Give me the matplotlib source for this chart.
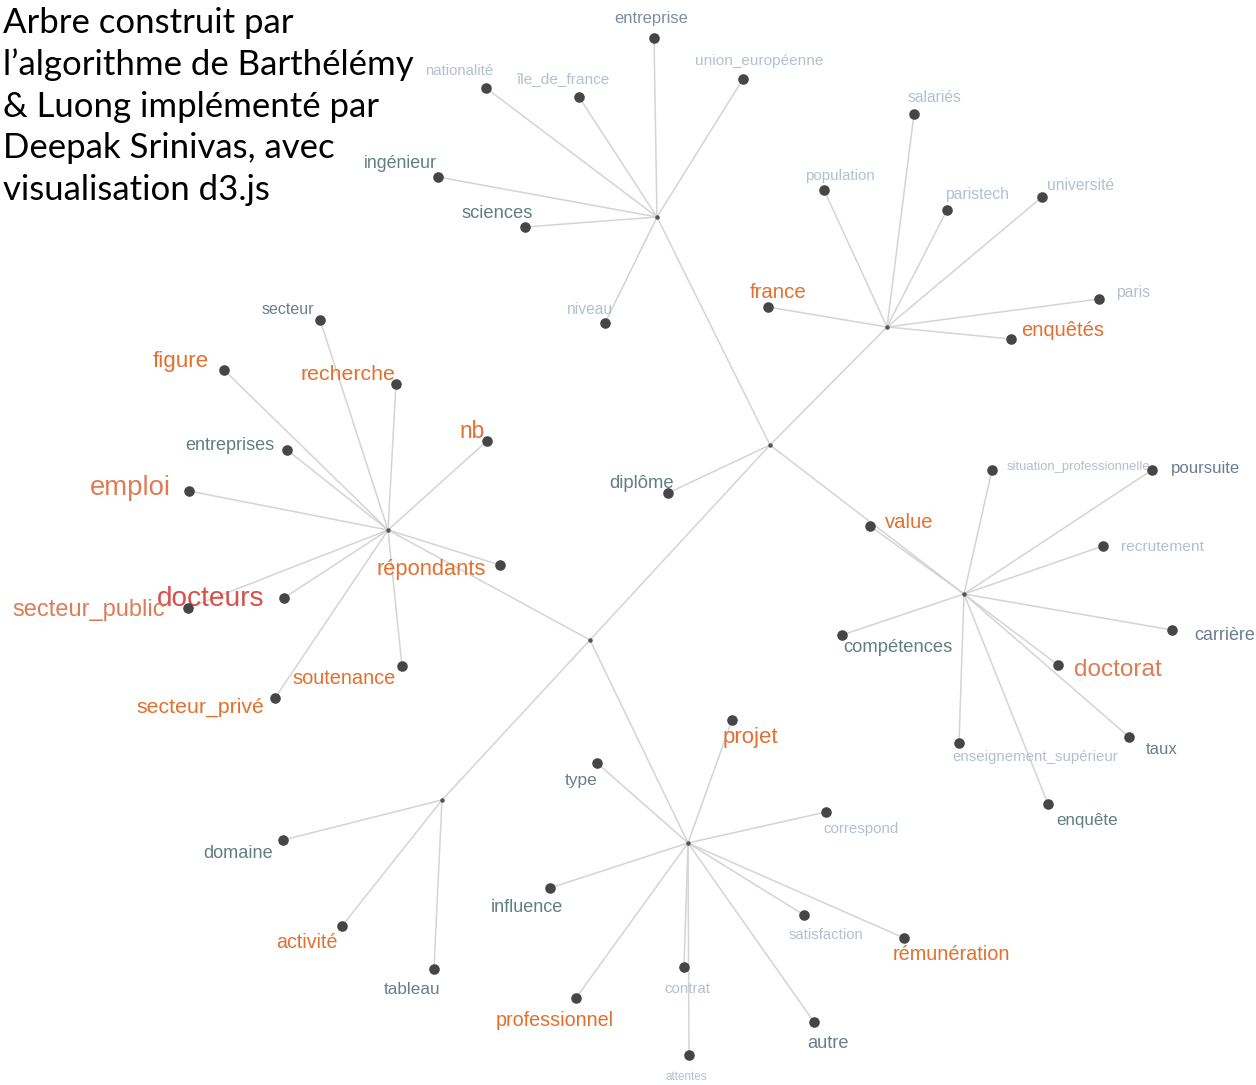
import matplotlib.pyplot as plt

# internal (unlabelled) nodes of the tree, pixel layout
hubs = ['A', 'B', 'C', 'D', 'E', 'F', 'G', 'H']
hub_x = [657, 887, 770, 388, 590, 964, 442, 688]
hub_y = [217, 327, 445, 530, 640, 594, 800, 843]
hub_links = [('A', 'C'), ('B', 'C'), ('C', 'E'), ('C', 'F'),
             ('E', 'D'), ('E', 'G'), ('E', 'H')]

# leaves: word, node position, parent hub, word weight, colour group
words = ['entreprise', 'union_européenne', 'île_de_france', 'nationalité', 'ingénieur',
         'sciences', 'niveau',
         'salariés', 'population', 'paristech', 'université', 'paris', 'enquêtés', 'france',
         'diplôme',
         'secteur', 'figure', 'recherche', 'nb', 'entreprises', 'emploi', 'répondants',
         'docteurs', 'secteur_public', 'soutenance', 'secteur_privé',
         'value', 'situation_professionnelle', 'poursuite', 'recrutement', 'carrière',
         'doctorat', 'taux', 'enquête', 'enseignement_supérieur', 'compétences',
         'domaine', 'activité', 'tableau',
         'type', 'projet', 'correspond', 'influence', 'satisfaction', 'rémunération',
         'contrat', 'professionnel', 'autre', 'attentes']
word_x = [654, 743, 579, 486, 438, 525, 605,
          914, 824, 947, 1042, 1099, 1011, 768,
          668,
          320, 224, 396, 487, 287, 189, 500, 284, 188, 402, 275,
          870, 992, 1152, 1103, 1172, 1058, 1129, 1048, 959, 842,
          283, 342, 434,
          597, 732, 826, 550, 804, 904, 684, 576, 814, 689]
word_y = [38, 79, 97, 88, 177, 227, 323,
          114, 190, 210, 197, 299, 339, 307,
          493,
          320, 370, 384, 441, 450, 491, 565, 598, 608, 666, 698,
          526, 470, 470, 546, 630, 665, 737, 804, 743, 635,
          840, 926, 969,
          763, 720, 812, 888, 915, 938, 967, 998, 1022, 1055]
parent = ['A'] * 7 + ['B'] * 7 + ['C'] + ['D'] * 11 + ['F'] * 10 + ['G'] * 3 + ['H'] * 10
weight = [14, 13, 13, 12.6, 15, 15.6, 13.2,
          13.2, 12.8, 13.4, 13.2, 13.3, 17.1, 17.3,
          15.7,
          13.6, 19, 18, 19.2, 15.3, 23.3, 18.5, 23.7, 20, 16.9, 18,
          17.2, 11, 14.2, 13.1, 15.2, 20.7, 14.1, 14.4, 12.7, 15.6,
          15.4, 16.6, 14.5,
          14.7, 18.9, 12.8, 15.3, 12.6, 16.8, 12.7, 16.7, 15.5, 9.8]
group = ['m', 'l', 'l', 'l', 't', 't', 'l',
         'l', 'l', 'l', 'l', 'l', 'o', 'o',
         't',
         'd', 'o', 'o', 'o', 't', 's', 'o', 'r', 's', 'o', 'o',
         'o', 'l', 'd', 'l', 'd', 's', 'd', 't', 'l', 't',
         't', 'o', 'd',
         'd', 'o', 'l', 't', 'l', 'o', 'l', 'o', 'd', 'l']
# where each label sits
label_x = [651, 759, 563, 459, 400, 497, 590,
           935, 840, 977, 1081, 1133, 1063, 778,
           642,
           288, 181, 348, 472, 230, 130, 431, 211, 89, 344, 200,
           909, 1078, 1206, 1162, 1225, 1118, 1162, 1087, 1035, 898,
           238, 307, 412,
           581, 750, 861, 527, 826, 951, 687, 555, 828, 686]
label_y = [18, 61, 79, 71, 163, 213, 310,
           97, 176, 195, 186, 292, 331, 293,
           483,
           309, 362, 374, 431, 445, 488, 569, 599, 610, 679, 707,
           522, 467, 469, 547, 636, 670, 749, 821, 757, 647,
           853, 943, 990,
           781, 737, 829, 908, 935, 955, 989, 1020, 1043, 1077]

title_lines = ['Arbre construit par', 'l\u2019algorithme de Barthélémy',
               '& Luong implémenté par', 'Deepak Srinivas, avec', 'visualisation d3.js']

colors = {'o': '#e2702f', 's': '#de7c56', 'r': '#d8504a', 'd': '#6c7d90',
          'm': '#7f8c9c', 't': '#5f807d', 'l': '#b4c0cf'}

fig = plt.figure(figsize=(12.56, 10.85), dpi=100)
ax = fig.add_axes([0, 0, 1, 1])
ax.set_xlim(0, 1256)
ax.set_ylim(1085, 0)
ax.axis('off')

hx = dict(zip(hubs, hub_x))
hy = dict(zip(hubs, hub_y))

for a, b in hub_links:
    ax.plot([hx[a], hx[b]], [hy[a], hy[b]], color='#d4d4d4', lw=1.1, zorder=1)
for x, y, p in zip(word_x, word_y, parent):
    ax.plot([hx[p], x], [hy[p], y], color='#d4d4d4', lw=1.1, zorder=1)

ax.scatter(hub_x, hub_y, s=5, color='#555555', zorder=3)
ax.scatter(word_x, word_y, s=58, color='#464646', zorder=3, linewidths=0)

for w, lx, ly, wt, g in zip(words, label_x, label_y, weight, group):
    ax.text(lx, ly, w, ha='center', va='center', fontsize=wt * 0.85,
            color=colors[g], family='Liberation Sans', zorder=2)

# title block, one text per line (baselines ~42 px apart)
for i, line in enumerate(title_lines):
    ax.text(3, 33 + 41.8 * i, line, ha='left', va='baseline', fontsize=25,
            family='Lato', color='black', zorder=4)

plt.savefig('out.png', dpi=100)
plt.close()
